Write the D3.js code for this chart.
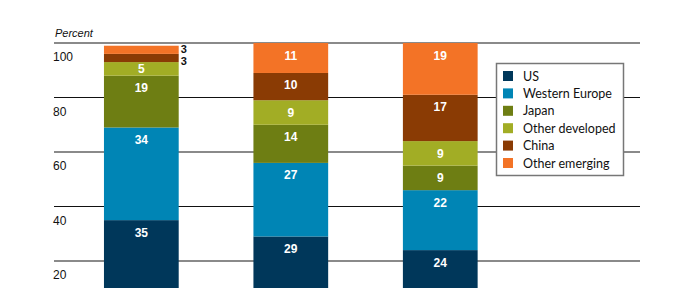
<!DOCTYPE html>
<html>
<head>
<meta charset="utf-8">
<script src="https://cdn.jsdelivr.net/npm/d3@7"></script>
<style>
  body { margin: 0; background: #fff; }
  svg { display: block; }
</style>
</head>
<body>
<div id="chart"></div>
<script>
// data (bars bottom to top)
const columns = ["col1", "col2", "col3"]
const regions = ["US", "Western Europe", "Japan", "Other developed", "China", "Other emerging"]
const us = [35, 29, 24]
const westernEurope = [34, 27, 22]
const japan = [19, 14, 9]
const otherDeveloped = [5, 9, 9]
const china = [3, 10, 17]
const otherEmerging = [3, 11, 19]
const yTicks = [20, 40, 60, 80, 100]

const colors = ["#00375a", "#0085b5", "#6e7e13", "#a2ad25", "#8a3b04", "#f37326"]

const width = 685, height = 288

const svg = d3.select("#chart").append("svg")
    .attr("width", width)
    .attr("height", height)
    .style("font-family", "Liberation Sans, Arial, sans-serif")

const x = d3.scaleBand()
    .domain(columns)
    .range([66.6, 515])
    .paddingInner(0.5)
    .paddingOuter(0.25)

const y = d3.scaleLinear()
    .domain([0, 100])
    .range([315.5, 43])

// build rows for the stack
const series = [us, westernEurope, japan, otherDeveloped, china, otherEmerging]
const table = columns.map((c, i) => {
    const row = { col: c }
    regions.forEach((r, j) => { row[r] = series[j][i] })
    return row
})
const stacked = d3.stack().keys(regions)(table)

// gridlines
const grid = svg.append("g")
grid.selectAll("line")
    .data(yTicks)
    .join("line")
    .attr("x1", 54)
    .attr("x2", 640)
    .attr("y1", d => y(d))
    .attr("y2", d => y(d))
    .attr("stroke", (d, i) => i % 2 == 0 ? "#8a8a8a" : "#111")
    .attr("stroke-width", d => d == 100 ? 2 : (yTicks.indexOf(d) % 2 == 0 ? 1.8 : 1.2))

grid.selectAll("text")
    .data(yTicks)
    .join("text")
    .attr("x", 53)
    .attr("y", d => y(d) + 18)
    .attr("font-size", 12)
    .attr("fill", "#111")
    .text(d => d)

svg.append("text")
    .attr("x", 55)
    .attr("y", 37)
    .attr("font-size", 11)
    .attr("font-style", "italic")
    .attr("fill", "#111")
    .text("Percent")

// bars
const layers = svg.append("g")
    .selectAll("g")
    .data(stacked)
    .join("g")
    .attr("fill", (d, i) => colors[i])

layers.selectAll("rect")
    .data(d => d)
    .join("rect")
    .attr("x", d => x(d.data.col))
    .attr("width", x.bandwidth())
    .attr("y", d => y(d[1]))
    .attr("height", d => y(d[0]) - y(d[1]))

// value labels
const labels = svg.append("g")
    .attr("font-weight", "bold")
    .attr("font-size", 12)

columns.forEach((c, ci) => {
    // go top to bottom so small outside labels can be pushed apart
    let lastOutside = -Infinity
    stacked.slice().reverse().forEach(layer => {
        const d = layer[ci]
        const v = d[1] - d[0]
        const top = y(d[1]), bottom = y(d[0])
        if (bottom - top < 12) {
            const cy = Math.max((top + bottom) / 2 - 1, lastOutside + 12.5)
            lastOutside = cy
            labels.append("text")
                .attr("x", x(c) + x.bandwidth() + 2)
                .attr("y", cy + 4)
                .attr("font-size", 11)
                .attr("fill", "#111")
                .text(v)
        } else {
            const cy = Math.min(top + 12, (top + bottom) / 2)
            labels.append("text")
                .attr("x", x(c) + x.bandwidth() / 2)
                .attr("y", cy + 4.5)
                .attr("text-anchor", "middle")
                .attr("fill", "#fff")
                .text(v)
        }
    })
})

// legend
const legend = svg.append("g")
legend.append("rect")
    .attr("x", 496.5)
    .attr("y", 63.5)
    .attr("width", 127)
    .attr("height", 112)
    .attr("fill", "#fff")
    .attr("stroke", "#777")
    .attr("stroke-width", 1.5)

const items = legend.selectAll("g.item")
    .data(regions)
    .join("g")
    .attr("class", "item")
    .attr("transform", (d, i) => `translate(503,${76 + i * 17.4})`)

items.append("rect")
    .attr("x", 0)
    .attr("y", -5)
    .attr("width", 10)
    .attr("height", 10)
    .attr("fill", (d, i) => colors[i])

items.append("text")
    .attr("x", 20)
    .attr("y", 4.5)
    .attr("font-size", 12.5)
    .attr("font-family", "Lato, sans-serif")
    .attr("fill", "#111")
    .text(d => d)
</script>
</body>
</html>
